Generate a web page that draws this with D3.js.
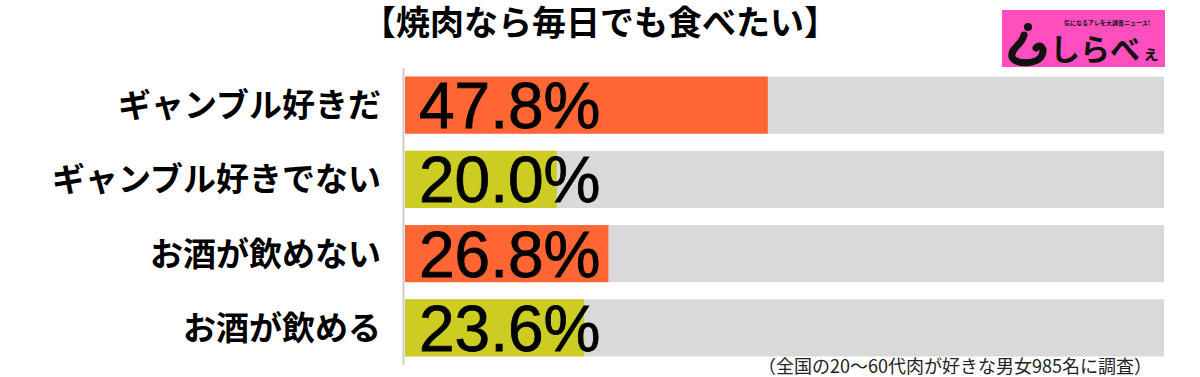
<!DOCTYPE html>
<html>
<head>
<meta charset="utf-8">
<script src="https://cdn.jsdelivr.net/npm/d3@7"></script>
<style>
  body { margin: 0; background: #fff; }
  text { font-family: "Noto Sans CJK JP", "Noto Sans", sans-serif; }
</style>
</head>
<body>
<svg id="chart" width="1200" height="377"></svg>
<script>
const categories = ["ギャンブル好きだ", "ギャンブル好きでない", "お酒が飲めない", "お酒が飲める"];
const values = [47.8, 20.0, 26.8, 23.6];
const barColors = ["#FF6633", "#CCCC22", "#FF6633", "#CCCC22"];
const title = "【焼肉なら毎日でも食べたい】";
const note = "（全国の20～60代肉が好きな男女985名に調査）";

const svg = d3.select("#chart");

const x = d3.scaleLinear().domain([0, 100]).range([405, 1164]);
const y = d3.scaleBand().domain(categories).range([68, 365]).paddingInner(0.23).paddingOuter(0.115);

// title
svg.append("text")
  .attr("x", 600).attr("y", 35)
  .attr("text-anchor", "middle")
  .style("font-size", "34px").style("font-weight", "bold")
  .text(title);

// background tracks
svg.selectAll(".track")
  .data(categories)
  .enter().append("rect")
  .attr("x", x(0)).attr("y", d => y(d))
  .attr("width", x(100) - x(0)).attr("height", y.bandwidth())
  .attr("fill", "#D9D9D9");

// bars
svg.selectAll(".bar")
  .data(values)
  .enter().append("rect")
  .attr("x", x(0)).attr("y", (d, i) => y(categories[i]))
  .attr("width", d => x(d) - x(0)).attr("height", y.bandwidth())
  .attr("fill", (d, i) => barColors[i]);

// axis line
svg.append("line")
  .attr("x1", 403.5).attr("x2", 403.5).attr("y1", 68).attr("y2", 365)
  .attr("stroke", "#ccc").attr("stroke-width", 2);

// category labels
svg.selectAll(".cat")
  .data(categories)
  .enter().append("text")
  .attr("x", 381).attr("y", d => y(d) + y.bandwidth() / 2)
  .attr("dy", "0.36em")
  .attr("text-anchor", "end")
  .style("font-size", "33px").style("font-weight", "bold")
  .text(d => d);

// value labels
svg.selectAll(".val")
  .data(values)
  .enter().append("text")
  .attr("x", x(0) + 14).attr("y", (d, i) => y(categories[i]) + y.bandwidth() / 2)
  .attr("dy", "0.36em")
  .style("font-family", "'Liberation Sans', Arial, sans-serif")
  .style("font-size", "64px")
  .attr("stroke", "#000").attr("stroke-width", 0.8)
  .text(d => d.toFixed(1) + "%");

// footnote
svg.append("text")
  .attr("x", 1152).attr("y", 373)
  .attr("text-anchor", "end")
  .style("font-size", "18px").attr("fill", "#222")
  .text(note);

// logo
const logo = svg.append("g").attr("transform", "translate(1002,10)");
logo.append("rect").attr("width", 163).attr("height", 57).attr("fill", "#FF4FBF");
logo.append("circle").attr("cx", 26).attr("cy", 17).attr("r", 4).attr("fill", "#111");
logo.append("path")
  .attr("d", "M22,25 C20,35 8,38 10,47 C13,55 36,55 40,45 C43,38 38,33 34,38")
  .attr("fill", "none").attr("stroke", "#111").attr("stroke-width", 7).attr("stroke-linecap", "round");
logo.append("text").attr("x", 62).attr("y", 15)
  .style("font-size", "6px").style("font-weight", "bold").attr("fill", "#111")
  .text("気になるアレを大調査ニュース!");
logo.append("text").attr("x", 48).attr("y", 50)
  .style("font-size", "30px").style("font-weight", "bold").attr("fill", "#111")
  .text("しらべ");
logo.append("text").attr("x", 140).attr("y", 50)
  .style("font-size", "18px").style("font-weight", "bold").attr("fill", "#111")
  .text("ぇ");
</script>
</body>
</html>
